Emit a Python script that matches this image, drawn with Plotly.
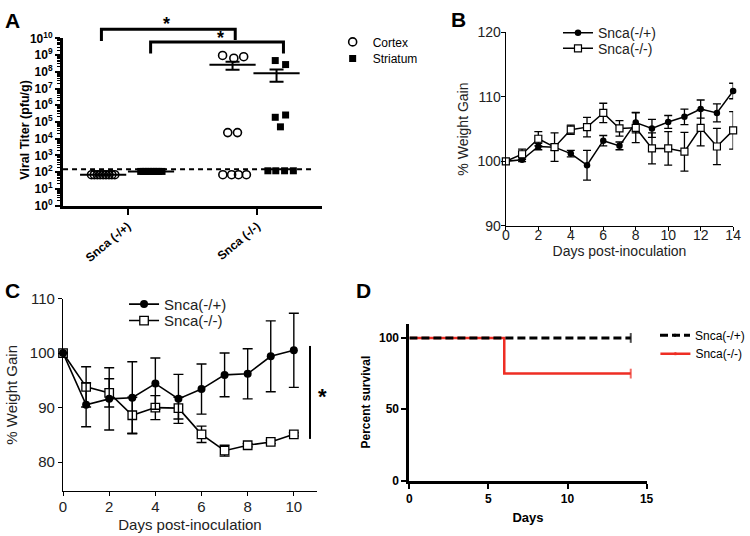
import numpy as np
import plotly.graph_objects as go

W, H = 750, 536

# ---------------- Panel A data (viral titer, pfu/g) ----------------
groups_A = ["Snca (-/+)", "Snca (-/-)"]
cortex_het = [70, 70, 70, 70, 70, 70, 70, 70, 70]
cortex_ko = [9.5e8, 6.5e8, 8.0e8, 2.3e4, 2.3e4, 70, 70, 70, 70]
striatum_het = [110, 110, 110, 110, 110, 110, 110, 110, 110]
striatum_ko = [4.7e8, 2.7e8, 1.9e5, 2.6e5, 5.1e4, 120, 120, 120, 120]
cortex_het_jit = [-0.28, -0.258, -0.235, -0.213, -0.19, -0.168, -0.145, -0.123, -0.10]
cortex_ko_jit = [-0.267, -0.18, -0.104, -0.227, -0.152, -0.265, -0.197, -0.144, -0.083]
striatum_het_jit = [0.10, 0.12, 0.14, 0.16, 0.18, 0.20, 0.22, 0.24, 0.265]
striatum_ko_jit = [0.14, 0.22, 0.14, 0.22, 0.18, 0.083, 0.144, 0.212, 0.28]
LOD = 150

# ---------------- Panel B data (% weight gain) ----------------
days_B = list(range(15))
B_het = [100, 100.25, 102.3, 102.2, 101.2, 99.4, 103.2, 102.4, 106.0, 105.1, 106.1, 106.9, 108.1, 107.5, 110.9]
B_het_err = [0, 0.3, 0.5, 0.5, 0.5, 2.3, 0.8, 0.6, 1.6, 1.4, 1.0, 1.2, 1.4, 1.4, 1.2]
B_ko = [100, 101.1, 103.5, 102.2, 104.9, 105.3, 107.5, 105.1, 105.2, 102.0, 102.0, 101.5, 105.2, 102.3, 104.8]
B_ko_err = [0, 0.8, 1.1, 2.2, 0.7, 1.5, 1.5, 1.2, 2.3, 2.4, 2.6, 3.0, 2.8, 2.8, 2.9]

# ---------------- Panel C data (% weight gain) ----------------
days_C = list(range(11))
C_het = [100, 90.5, 91.6, 91.8, 94.4, 91.6, 93.4, 96.0, 96.2, 99.4, 100.5]
C_het_err = [0, 4.0, 5.7, 6.6, 4.7, 4.5, 4.6, 4.0, 4.6, 6.5, 6.8]
C_ko = [100, 93.8, 92.7, 88.6, 90.0, 89.9, 85.1, 82.1, 83.1, 83.7, 85.1]
C_ko_err = [0, 3.7, 2.6, 3.3, 2.2, 2.0, 1.5, 1.0, 0.3, 0.3, 0.3]

# ---------------- Panel D data (survival) ----------------
days_D = [0, 6, 14]
surv_het = [100, 100, 100]
surv_ko = [100, 75, 75]

RED = "#ee2e24"
FONT = "Liberation Sans, Arial, sans-serif"


def xd(a, b):
    return [a / W, b / W]


def yd(top, bottom):
    return [1 - bottom / H, 1 - top / H]


def px(x):
    return x / W


def py(y):
    return 1 - y / H


fig = go.Figure()

# ---------- Panel A ----------
def mean_sem(v):
    a = np.array(v, dtype=float)
    return a.mean(), a.std(ddof=1) / np.sqrt(len(a))

cx = [1 + j for j in cortex_het_jit] + [2 + j for j in cortex_ko_jit]
sx = [1 + j for j in striatum_het_jit] + [2 + j for j in striatum_ko_jit]
fig.add_trace(go.Scatter(x=cx, y=cortex_het + cortex_ko, mode="markers", name="Cortex",
                         marker=dict(symbol="circle-open", size=8, color="black", line=dict(width=1.6)),
                         xaxis="x", yaxis="y", legend="legend", cliponaxis=False))
fig.add_trace(go.Scatter(x=sx, y=striatum_het + striatum_ko, mode="markers", name="Striatum",
                         marker=dict(symbol="square", size=7, color="black"),
                         xaxis="x", yaxis="y", legend="legend2", cliponaxis=False))
for vals, center in [(cortex_het, 0.81), (striatum_het, 1.18), (cortex_ko, 1.81), (striatum_ko, 2.15)]:
    m, s = mean_sem(vals)
    fig.add_trace(go.Scatter(x=[center], y=[m], mode="markers", showlegend=False,
                             marker=dict(symbol="line-ew-open", size=33, color="black", line=dict(width=2, color="black")),
                             error_y=dict(type="data", array=[s], color="black", thickness=2, width=7),
                             xaxis="x", yaxis="y"))

# ---------- Panel B ----------
fig.add_trace(go.Scatter(x=days_B, y=B_het, mode="lines+markers", name="Snca(-/+)",
                         line=dict(color="black", width=1.5),
                         marker=dict(symbol="circle", size=6.5, color="black"),
                         error_y=dict(type="data", array=B_het_err, color="black", thickness=1.3, width=4),
                         xaxis="x2", yaxis="y2", legend="legend3", cliponaxis=False))
fig.add_trace(go.Scatter(x=days_B, y=B_ko, mode="lines+markers", name="Snca(-/-)",
                         line=dict(color="black", width=1.5),
                         marker=dict(symbol="square", size=7, color="white", line=dict(color="black", width=1.2)),
                         error_y=dict(type="data", array=B_ko_err, color="black", thickness=1.3, width=4),
                         xaxis="x2", yaxis="y2", legend="legend4", cliponaxis=False))

# ---------- Panel C ----------
fig.add_trace(go.Scatter(x=days_C, y=C_ko, mode="lines+markers", name="Snca(-/-)",
                         line=dict(color="black", width=1.6),
                         marker=dict(symbol="square", size=8.5, color="white", line=dict(color="black", width=1.3)),
                         error_y=dict(type="data", array=C_ko_err, color="black", thickness=1.4, width=5),
                         xaxis="x3", yaxis="y3", legend="legend6", cliponaxis=False))
fig.add_trace(go.Scatter(x=days_C, y=C_het, mode="lines+markers", name="Snca(-/+)",
                         line=dict(color="black", width=1.6),
                         marker=dict(symbol="circle", size=8, color="black"),
                         error_y=dict(type="data", array=C_het_err, color="black", thickness=1.4, width=5),
                         xaxis="x3", yaxis="y3", legend="legend5", cliponaxis=False))

# ---------- Panel D ----------
fig.add_trace(go.Scatter(x=days_D, y=surv_ko, mode="lines+markers", name="Snca(-/-)", line_shape="hv",
                         line=dict(color=RED, width=2.5),
                         marker=dict(symbol="line-ns-open", size=[0, 0, 7], color=RED, line=dict(color=RED, width=2)),
                         xaxis="x4", yaxis="y4", legend="legend8", cliponaxis=False))
fig.add_trace(go.Scatter(x=days_D, y=surv_het, mode="lines+markers", name="Snca(-/+)",
                         line=dict(color="black", width=3, dash="8px,4px"),
                         marker=dict(symbol="line-ns-open", size=[0, 0, 7], color="black", line=dict(color="black", width=2)),
                         xaxis="x4", yaxis="y4", legend="legend7", cliponaxis=False))

# ---------- Axes ----------
def ax(**kw):
    base = dict(showgrid=False, zeroline=False, showline=True, linecolor="black",
                ticks="outside", tickcolor="black")
    base.update(kw)
    return base

def f(size, bold=False, color="black"):
    d = dict(family=FONT, size=size, color=color)
    if bold:
        d["weight"] = "bold"
    return d

fig.update_layout(
    xaxis=ax(domain=xd(60, 323), range=[0.5, 2.5], anchor="y", linewidth=3, ticklen=6, tickwidth=2,
             tickvals=[1, 2], ticktext=groups_A, tickangle=-40, tickfont=f(12, True)),
    yaxis=ax(domain=yd(30.3, 203), type="log", range=[0, 10], anchor="x", linewidth=3, ticklen=5, tickwidth=2,
             tickvals=[10 ** i for i in range(11)],
             ticktext=["10<sup>%d</sup>" % i for i in range(11)], tickfont=f(12, True),
             minor=dict(ticks="outside", ticklen=3, tickwidth=1, tickcolor="black",
                        tickvals=[k * 10 ** i for i in range(10) for k in range(2, 10)])),
    xaxis2=ax(domain=xd(510, 741), range=[0, 14], anchor="y2", linewidth=1.3, ticklen=4, tickwidth=1.3,
              tickvals=list(range(0, 15, 2)), tickfont=f(14, color="#222"), ticklabelstandoff=-8,
              title=dict(text="Days post-inoculation", standoff=1, font=f(14, color="#222"))),
    yaxis2=ax(domain=yd(24, 224), range=[90, 120], anchor="x2", linewidth=1.3, ticklen=4, tickwidth=1.3,
              tickvals=[90, 100, 110, 120], tickfont=f(14, color="#222"), ticklabelstandoff=-3,
              title=dict(text="% Weight Gain", standoff=5, font=f(14, color="#222"))),
    xaxis3=ax(domain=xd(60, 318), range=[0, 11], anchor="y3", linewidth=1.3, ticklen=4, tickwidth=1.3,
              tickvals=list(range(0, 11, 2)), tickfont=f(15, color="#222"), ticklabelstandoff=-2,
              title=dict(text="Days post-inoculation", standoff=5, font=f(15, color="#222"))),
    yaxis3=ax(domain=yd(299, 498), range=[74.67, 110], anchor="x3", linewidth=1.3, ticklen=4, tickwidth=1.3,
              tickvals=[80, 90, 100, 110], tickfont=f(15, color="#222"),
              title=dict(text="% Weight Gain", standoff=8, font=f(15, color="#222"))),
    xaxis4=ax(domain=xd(412, 653), range=[0, 15], anchor="y4", linewidth=3, ticklen=5, tickwidth=2,
              tickvals=[0, 5, 10, 15], tickfont=f(12, True),
              title=dict(text="Days", standoff=8, font=f(13, True))),
    yaxis4=ax(domain=yd(325, 487), range=[0, 110], anchor="x4", linewidth=3, ticklen=5, tickwidth=2,
              tickvals=[0, 50, 100], tickfont=f(12, True),
              title=dict(text="Percent survival", standoff=6, font=f(12, True))),
)

# one legend per entry so each can sit exactly where the reference puts it
def leg(text_x, y_center, size, color="black"):
    return dict(x=px(text_x - 38), y=py(y_center), xanchor="left", yanchor="middle",
                bgcolor="rgba(0,0,0,0)", borderwidth=0, font=f(size, color=color))

fig.update_layout(
    legend=leg(372, 34, 12), legend2=leg(372, 51, 12),
    legend3=leg(601, 25, 14, "#222"), legend4=leg(601, 41, 14, "#222"),
    legend5=leg(160, 305, 15, "#222"), legend6=leg(160, 322, 15, "#222"),
    legend7=leg(700, 337, 12), legend8=leg(700, 356, 12),
)

# ---------- Reference line, brackets, stars ----------
shapes = [
    dict(type="line", xref="x domain", yref="y", x0=0, x1=0.97, y0=LOD, y1=LOD,
         line=dict(color="black", width=2, dash="5px,4px")),
    dict(type="path", xref="paper", yref="paper",
         path="M %f,%f L %f,%f L %f,%f L %f,%f" % (px(99), py(33), px(99), py(21), px(235), py(21), px(235), py(32)),
         line=dict(color="black", width=3)),
    dict(type="path", xref="paper", yref="paper",
         path="M %f,%f L %f,%f L %f,%f L %f,%f" % (px(149), py(46), px(149), py(34), px(284), py(34), px(284), py(46)),
         line=dict(color="black", width=3)),
    dict(type="line", xref="paper", yref="paper", x0=px(311), x1=px(311), y0=py(348), y1=py(444),
         line=dict(color="black", width=2)),
]
fig.update_layout(shapes=shapes)

annotations = [
    dict(text="Viral Titer (pfu/g)", x=px(21), y=py(125), font=f(12.5, True), textangle=-90),
    dict(text="*", x=px(165), y=py(15), font=f(18, True)),
    dict(text="*", x=px(220), y=py(30), font=f(18, True)),
    dict(text="*", x=px(324), y=py(400), font=f(22, True)),
    dict(text="A", x=px(9), y=py(12), font=f(21, True)),
    dict(text="B", x=px(462), y=py(11), font=f(21, True)),
    dict(text="C", x=px(9), y=py(291), font=f(21, True)),
    dict(text="D", x=px(365), y=py(291), font=f(21, True)),
]
for a in annotations:
    a.update(xref="paper", yref="paper", showarrow=False, xanchor="center", yanchor="middle")
fig.update_layout(annotations=annotations)

fig.update_layout(width=W, height=H, margin=dict(l=0, r=0, t=0, b=0),
                  plot_bgcolor="white", paper_bgcolor="white")

fig.write_html("out.html", config={"displayModeBar": False},
               post_script="document.body.style.margin='0px';document.body.style.overflow='hidden';")
